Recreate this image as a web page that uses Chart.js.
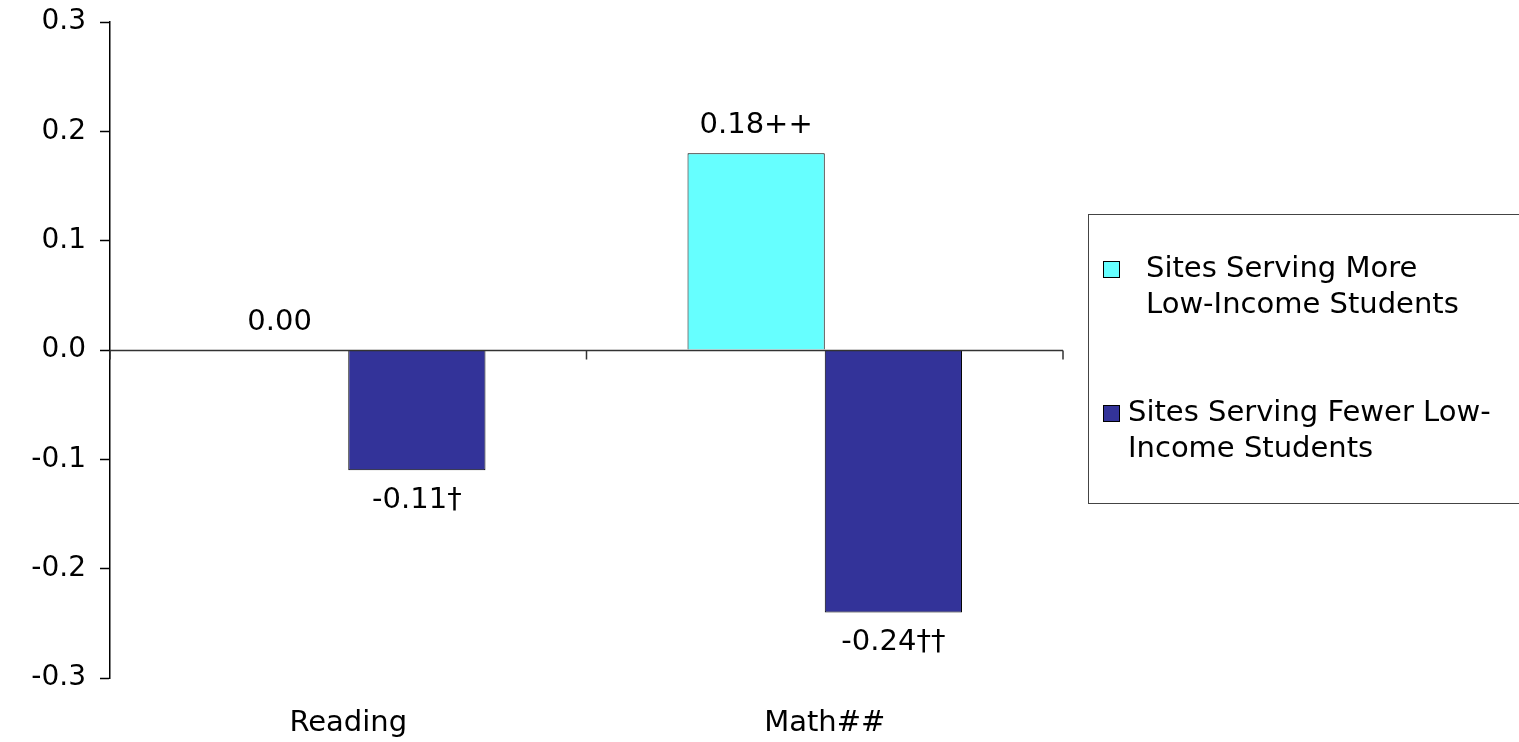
<!DOCTYPE html>
<html>
<head>
<meta charset="utf-8">
<script src="https://cdn.jsdelivr.net/npm/chart.js@4"></script>
<style>
  html, body { margin: 0; padding: 0; background: #fff; }
  #wrap { width: 1519px; height: 742px; }
</style>
</head>
<body>
<div id="wrap"><canvas id="myChart"></canvas></div>
<script>
// data
const categories = ['Reading', 'Math##'];
const moreValues = [0.00, 0.18];
const fewerValues = [-0.11, -0.24];
const moreLabels = ['0.00', '0.18++'];
const fewerLabels = ['-0.11†', '-0.24††'];
const seriesNames = ['Sites Serving More Low-Income Students', 'Sites Serving Fewer Low-Income Students'];
const legendLines = [['Sites Serving More', 'Low-Income Students'], ['Sites Serving Fewer Low-', 'Income Students']];
const yMin = -0.3, yMax = 0.3, yStep = 0.1;

const FONT = '"DejaVu Sans", Verdana, sans-serif';
const colors = ['#66FFFF', '#333399'];
const valueLabels = [moreLabels, fewerLabels];

// value labels above / below each bar
const barLabels = {
  id: 'barLabels',
  afterDatasetsDraw(chart) {
    const ctx = chart.ctx;
    ctx.save();
    ctx.font = '29px ' + FONT;
    ctx.fillStyle = '#000';
    ctx.textAlign = 'center';
    ctx.textBaseline = 'middle';
    chart.data.datasets.forEach((ds, i) => {
      chart.getDatasetMeta(i).data.forEach((bar, j) => {
        const v = ds.data[j];
        const y = v >= 0 ? bar.y - 28 : bar.y + 30;
        ctx.fillText(valueLabels[i][j], bar.x, y);
      });
    });
    ctx.restore();
  }
};

// zero line with tick marks at category boundaries
const zeroTicks = {
  id: 'zeroTicks',
  afterDatasetsDraw(chart) {
    const ctx = chart.ctx;
    const x = chart.scales.x, y = chart.scales.y;
    const y0 = Math.round(y.getPixelForValue(0)) + 0.5;
    ctx.save();
    ctx.strokeStyle = '#333';
    ctx.lineWidth = 1.5;
    ctx.beginPath();
    ctx.moveTo(x.left, y0);
    ctx.lineTo(x.right, y0);
    for (let i = 0; i <= categories.length; i++) {
      const px = x.getPixelForValue(i - 0.5);
      ctx.moveTo(px, y0);
      ctx.lineTo(px, y0 + 9);
    }
    ctx.stroke();
    ctx.restore();
  }
};

// boxed legend on the right
const boxLegend = {
  id: 'boxLegend',
  afterDraw(chart) {
    const ctx = chart.ctx;
    ctx.save();
    ctx.strokeStyle = '#444';
    ctx.lineWidth = 1;
    ctx.strokeRect(1088.5, 214.5, 440, 289);
    ctx.font = '29px ' + FONT;
    ctx.textBaseline = 'middle';
    const items = [{ y: 269, tx: 1146 }, { y: 413, tx: 1128 }];
    items.forEach((it, i) => {
      ctx.fillStyle = colors[i];
      ctx.fillRect(1103, it.y - 8, 16, 16);
      ctx.strokeStyle = '#000';
      ctx.strokeRect(1103.5, it.y - 7.5, 16, 16);
      ctx.fillStyle = '#000';
      legendLines[i].forEach((line, k) => {
        ctx.fillText(line, it.tx, it.y + k * 36);
      });
    });
    ctx.restore();
  }
};

new Chart(document.getElementById('myChart'), {
  type: 'bar',
  data: {
    labels: categories,
    datasets: [
      { label: seriesNames[0], data: moreValues, backgroundColor: colors[0], borderColor: '#000', borderWidth: 1 },
      { label: seriesNames[1], data: fewerValues, backgroundColor: colors[1], borderColor: '#000', borderWidth: 1 }
    ]
  },
  options: {
    responsive: true,
    maintainAspectRatio: false,
    animation: false,
    events: [],
    categoryPercentage: 0.576,
    barPercentage: 1,
    layout: { padding: { top: 22, right: 456, left: 0, bottom: 0 } },
    plugins: { legend: { display: false }, tooltip: { enabled: false } },
    scales: {
      x: {
        grid: { display: false, drawTicks: false },
        border: { display: false },
        ticks: { color: '#000', font: { family: FONT, size: 29 }, padding: 28 },
        afterFit(scale) { scale.height = 64; }
      },
      y: {
        min: yMin,
        max: yMax,
        ticks: {
          stepSize: yStep,
          color: '#000',
          padding: 14,
          font: { family: FONT, size: 28 },
          callback: (v) => (Math.abs(v) < 1e-9 ? 0 : v).toFixed(1)
        },
        grid: { drawOnChartArea: false, tickLength: 10, tickColor: '#000', tickWidth: 1.5 },
        border: { color: '#000', width: 1.5 },
        afterFit(scale) { scale.width = 110; scale.paddingTop = 0; scale.paddingBottom = 0; }
      }
    }
  },
  plugins: [barLabels, zeroTicks, boxLegend]
});
</script>
</body>
</html>
